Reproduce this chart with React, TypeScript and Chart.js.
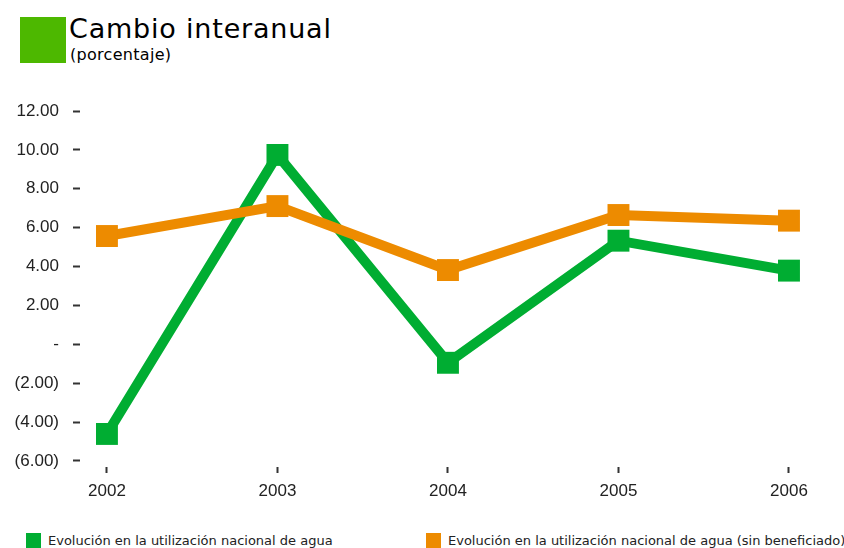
import React, { useEffect, useRef } from "react";
import { Chart, registerables } from "chart.js";

Chart.register(...registerables);

// Years on the horizontal axis
const years = [2002, 2003, 2004, 2005, 2006];

// Year-on-year change, national water use (percent)
const usoNacional = [-4.61, 9.74, -0.95, 5.33, 3.79];

// Year-on-year change, national water use without mineral processing (percent)
const usoSinBeneficiado = [5.57, 7.11, 3.82, 6.65, 6.36];

// Values shown on the vertical axis
const yTicks = [-6, -4, -2, 0, 2, 4, 6, 8, 10, 12];

const seriesNames = [
  "Evolución en la utilización nacional de agua",
  "Evolución en la utilización nacional de agua (sin beneficiado)",
];

const GREEN = "#00ad32";
const ORANGE = "#ed8b00";
const TITLE_GREEN = "#4db800";
const TEXT_FONT = '"DejaVu Sans", sans-serif';
const TICK_FONT = '"Liberation Sans", Arial, sans-serif';

function formatY(v: number): string {
  if (v === 0) return "-";
  if (v < 0) return `(${Math.abs(v).toFixed(2)})`;
  return v.toFixed(2);
}

export default function App() {
  const canvasRef = useRef<HTMLCanvasElement | null>(null);

  useEffect(() => {
    const canvas = canvasRef.current;
    if (!canvas) return;

    const chart = new Chart(canvas, {
      type: "line",
      data: {
        datasets: [
          {
            label: seriesNames[1],
            data: years.map((y, i) => ({ x: y, y: usoSinBeneficiado[i] })),
            borderColor: ORANGE,
            backgroundColor: ORANGE,
            borderWidth: 10,
            pointStyle: "rect",
            pointRadius: 15.5,
            pointBorderWidth: 0,
            pointBackgroundColor: ORANGE,
            tension: 0,
            order: 0,
            clip: false,
          },
          {
            label: seriesNames[0],
            data: years.map((y, i) => ({ x: y, y: usoNacional[i] })),
            borderColor: GREEN,
            backgroundColor: GREEN,
            borderWidth: 10,
            pointStyle: "rect",
            pointRadius: 15.5,
            pointBorderWidth: 0,
            pointBackgroundColor: GREEN,
            tension: 0,
            order: 1,
            clip: false,
          },
        ],
      },
      options: {
        animation: false,
        responsive: false,
        maintainAspectRatio: false,
        layout: { padding: { left: 0, right: 32, top: 21, bottom: 0 } },
        plugins: {
          legend: { display: false },
          tooltip: { enabled: false },
          title: { display: false },
        },
        scales: {
          x: {
            type: "linear",
            min: 2001.842,
            max: 2006.135,
            afterBuildTicks: (scale: any) => {
              scale.ticks = years.map((v) => ({ value: v }));
            },
            afterFit: (scale: any) => {
              scale.height = 43;
            },
            border: { display: false },
            grid: {
              drawOnChartArea: false,
              drawTicks: true,
              tickLength: 6,
              tickWidth: 2,
              tickColor: "#333333",
            },
            ticks: {
              autoSkip: false,
              maxRotation: 0,
              padding: 8,
              color: "#222222",
              font: { family: TICK_FONT, size: 17 },
              callback: (v: any) => String(v),
            },
          },
          y: {
            type: "linear",
            min: -6.31,
            max: 12,
            afterBuildTicks: (scale: any) => {
              scale.ticks = yTicks.map((v) => ({ value: v }));
            },
            afterFit: (scale: any) => {
              scale.width = 80;
              // the plot top is set by layout.padding alone
              scale.paddingTop = 0;
              scale.paddingBottom = 0;
            },
            border: { display: false },
            grid: {
              drawOnChartArea: false,
              drawTicks: true,
              tickLength: 7,
              tickWidth: 2,
              tickColor: "#333333",
            },
            ticks: {
              padding: 14,
              color: "#222222",
              font: { family: TICK_FONT, size: 17 },
              callback: (v: any) => formatY(Number(v)),
            },
          },
        },
      },
    });

    return () => chart.destroy();
  }, []);

  const legendItems = [
    { name: seriesNames[0], color: GREEN, left: 26 },
    { name: seriesNames[1], color: ORANGE, left: 426 },
  ];

  return (
    <div
      style={{
        position: "fixed",
        left: 0,
        top: 0,
        width: 844,
        height: 548,
        background: "#ffffff",
        overflow: "hidden",
        fontFamily: TEXT_FONT,
        color: "#111111",
      }}
    >
      <div
        style={{
          position: "absolute",
          left: 20,
          top: 17,
          width: 46,
          height: 46,
          background: TITLE_GREEN,
        }}
      />
      <div
        style={{
          position: "absolute",
          left: 69,
          top: 14,
          fontSize: 27,
          fontWeight: 400,
          lineHeight: "30px",
          letterSpacing: 0.8,
          color: "#000000",
          whiteSpace: "nowrap",
        }}
      >
        Cambio interanual
      </div>
      <div
        style={{
          position: "absolute",
          left: 70,
          top: 45,
          fontSize: 16,
          fontWeight: 400,
          lineHeight: "20px",
          letterSpacing: 0.3,
          color: "#000000",
          whiteSpace: "nowrap",
        }}
      >
        (porcentaje)
      </div>

      <canvas
        ref={canvasRef}
        width={844}
        height={420}
        style={{ position: "absolute", left: 0, top: 90, width: 844, height: 420 }}
      />

      {legendItems.map((item) => (
        <div
          key={item.name}
          style={{
            position: "absolute",
            left: item.left,
            top: 533,
            height: 15,
            display: "flex",
            alignItems: "center",
            whiteSpace: "nowrap",
          }}
        >
          <span
            style={{
              display: "inline-block",
              width: 15,
              height: 15,
              background: item.color,
              marginRight: 7,
            }}
          />
          <span style={{ fontSize: 13, fontWeight: 400, lineHeight: "15px", color: "#222222" }}>
            {item.name}
          </span>
        </div>
      ))}
    </div>
  );
}
